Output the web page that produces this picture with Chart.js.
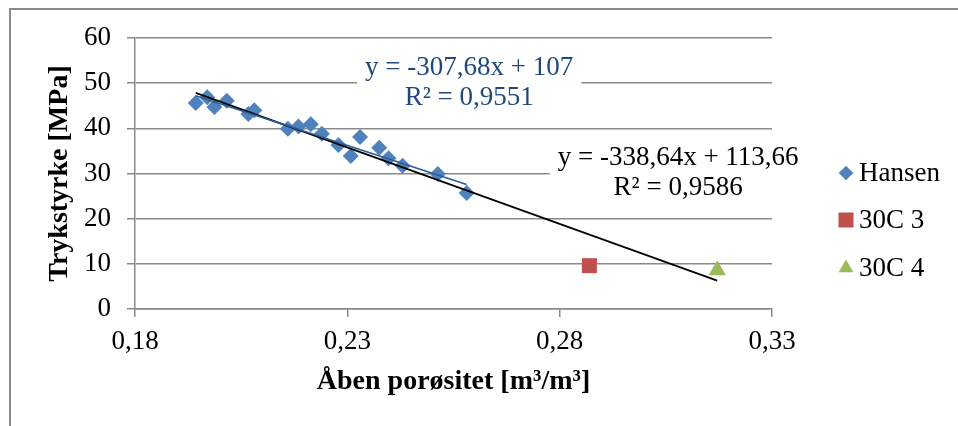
<!DOCTYPE html>
<html>
<head>
<meta charset="utf-8">
<script src="https://cdn.jsdelivr.net/npm/chart.js@4.4.1/dist/chart.umd.min.js"></script>
<style>
body{margin:0;overflow:hidden;background:#fff}
#ramme{position:relative;width:958px;height:426px;overflow:hidden}
#kant{position:absolute;left:9px;top:8px;width:1200px;height:800px;border:2px solid #8a8a8a}
canvas{position:absolute;left:0;top:0}
</style>
</head>
<body>
<div id="ramme"><div id="kant"></div><canvas id="graf" width="958" height="426"></canvas></div>
<script>
// DATA:

const hansenX = [0.1943, 0.1970, 0.1987, 0.2016, 0.2067, 0.2081, 0.2160, 0.2185, 0.2214,
                 0.2240, 0.2279, 0.2308, 0.2330, 0.2375, 0.2397, 0.2430, 0.2513, 0.2581];
const hansenY = [45.6, 46.9, 44.7, 46.1, 43.2, 44.0, 39.9, 40.4, 40.9,
                 38.8, 36.3, 33.9, 38.1, 35.7, 33.4, 31.7, 29.9, 25.7];
const c3X = [0.2870];
const c3Y = [9.6];
const c4X = [0.3171];
const c4Y = [8.6];

const xTicks = [0.18, 0.23, 0.28, 0.33];
const yTicks = [0, 10, 20, 30, 40, 50, 60];

// tendenslinjer: hældning og skæring som vist i grafen
const trendSlope = [-307.68, -338.64];
const trendIntercept = [107, 113.66];
const trendText = [
    ["y = -307,68x + 107", "R² = 0,9551"],
    ["y = -338,64x + 113,66", "R² = 0,9586"]
];

const serieNavne = ["Hansen", "30C 3", "30C 4"];
const serieFarver = ["#4F81BD", "#C0504D", "#9BBB59"];

// FUNKTIONER:

function punkter(xs, ys) {
    return xs.map(function(x, i) { return {x: x, y: ys[i]}; });
}

function trendLinje(k, fra, til) {
    return [
        {x: fra, y: trendSlope[k] * fra + trendIntercept[k]},
        {x: til, y: trendSlope[k] * til + trendIntercept[k]}
    ];
}

const alleX = hansenX.concat(c3X, c4X);
const skrift = "'Liberation Serif', 'Times New Roman', serif";
const gitter = "#8a8a8a";
const str = 27;

const tekstPlugin = {
    id: "trendTekst",
    beforeDatasetsDraw(chart) {
        const ctx = chart.ctx;
        const xs = chart.scales.x, ys = chart.scales.y;
        const ankre = [{x: 0.2587, y: 50.1, farve: "#1F497D"}, {x: 0.3079, y: 30.2, farve: "#000"}];
        ctx.save();
        ctx.font = str + "px " + skrift;
        ctx.textAlign = "center";
        ctx.textBaseline = "middle";
        ankre.forEach(function(a, k) {
            const cx = xs.getPixelForValue(a.x);
            const cy = ys.getPixelForValue(a.y);
            const bredde = Math.max.apply(null, trendText[k].map(t => ctx.measureText(t).width));
            ctx.fillStyle = "#fff";
            ctx.fillRect(cx - bredde / 2 - 8, cy - 26, bredde + 16, 52);
            ctx.fillStyle = a.farve;
            ctx.fillText(trendText[k][0], cx, cy - 15);
            ctx.fillText(trendText[k][1], cx, cy + 15);
        });
        ctx.restore();
    }
};

const forklaringPlugin = {
    id: "forklaring",
    afterDraw(chart) {
        const ctx = chart.ctx;
        const area = chart.chartArea;
        const rækker = [173, 220, 268];
        const radier = [7.3, 10.6, 8.5];
        ctx.save();
        ctx.font = str + "px " + skrift;
        ctx.textBaseline = "middle";
        ctx.textAlign = "left";
        serieNavne.forEach(function(navn, i) {
            const ds = chart.data.datasets[i + 2];
            ctx.fillStyle = ds.backgroundColor;
            ctx.strokeStyle = ds.backgroundColor;
            ctx.lineWidth = 1;
            Chart.helpers.drawPoint(ctx, {pointStyle: ds.pointStyle, radius: radier[i], borderWidth: 0},
                area.right + 74, rækker[i]);
            ctx.fillStyle = "#000";
            ctx.fillText(navn, area.right + 87, rækker[i] + 1);
        });
        ctx.restore();
    }
};

new Chart(document.getElementById("graf"), {
    type: "scatter",
    data: {
        datasets: [
            {
                label: "Tendens Hansen",
                data: trendLinje(0, Math.min.apply(null, hansenX), Math.max.apply(null, hansenX)),
                showLine: true, borderColor: "#2B5C94", borderWidth: 1.6,
                pointRadius: 0, order: 0
            },
            {
                label: "Tendens alle",
                data: trendLinje(1, Math.min.apply(null, alleX), Math.max.apply(null, alleX)),
                showLine: true, borderColor: "#000", borderWidth: 1.8,
                pointRadius: 0, order: 0
            },
            {
                label: serieNavne[0], data: punkter(hansenX, hansenY),
                pointStyle: "rectRot", pointRadius: 8, borderWidth: 0,
                backgroundColor: serieFarver[0], borderColor: serieFarver[0], order: 1
            },
            {
                label: serieNavne[1], data: punkter(c3X, c3Y),
                pointStyle: "rect", pointRadius: 10.6, borderWidth: 0,
                backgroundColor: serieFarver[1], borderColor: serieFarver[1], order: 1
            },
            {
                label: serieNavne[2], data: punkter(c4X, c4Y),
                pointStyle: "triangle", pointRadius: 10, borderWidth: 0,
                backgroundColor: serieFarver[2], borderColor: serieFarver[2], order: 1
            }
        ]
    },
    options: {
        responsive: false,
        animation: false,
        layout: {padding: {left: 30, right: 186, top: 38, bottom: 0}},
        plugins: {legend: {display: false}, tooltip: {enabled: false}},
        scales: {
            x: {
                type: "linear", min: 0.18, max: 0.33,
                afterBuildTicks: function(scale) { scale.ticks = xTicks.map(v => ({value: v})); },
                afterFit: function(scale) { scale.height = 117; },
                grid: {drawOnChartArea: false, drawTicks: true, tickLength: 8, color: gitter, lineWidth: 1.5},
                border: {display: true, color: gitter, width: 1.5},
                ticks: {
                    padding: 9, color: "#000", font: {family: skrift, size: str},
                    callback: function(v) { return v.toFixed(2).replace(".", ","); }
                },
                title: {
                    display: true, text: "Åben porøsitet [m³/m³]", color: "#000",
                    font: {family: skrift, size: 28, weight: "bold"},
                    padding: {top: 4, bottom: 27}
                }
            },
            y: {
                type: "linear", min: 0, max: 60,
                afterBuildTicks: function(scale) { scale.ticks = yTicks.map(v => ({value: v})); },
                afterFit: function(scale) { scale.width = 105; },
                grid: {drawOnChartArea: true, drawTicks: true, tickLength: 8, color: gitter, lineWidth: 1.5},
                border: {display: true, color: gitter, width: 1.5},
                ticks: {padding: 16, color: "#000", font: {family: skrift, size: str}},
                title: {
                    display: true, text: "Trykstyrke [MPa]", color: "#000",
                    font: {family: skrift, size: 28, weight: "bold"},
                    padding: {top: 13, bottom: 0}
                }
            }
        }
    },
    plugins: [tekstPlugin, forklaringPlugin]
});
</script>
</body>
</html>
